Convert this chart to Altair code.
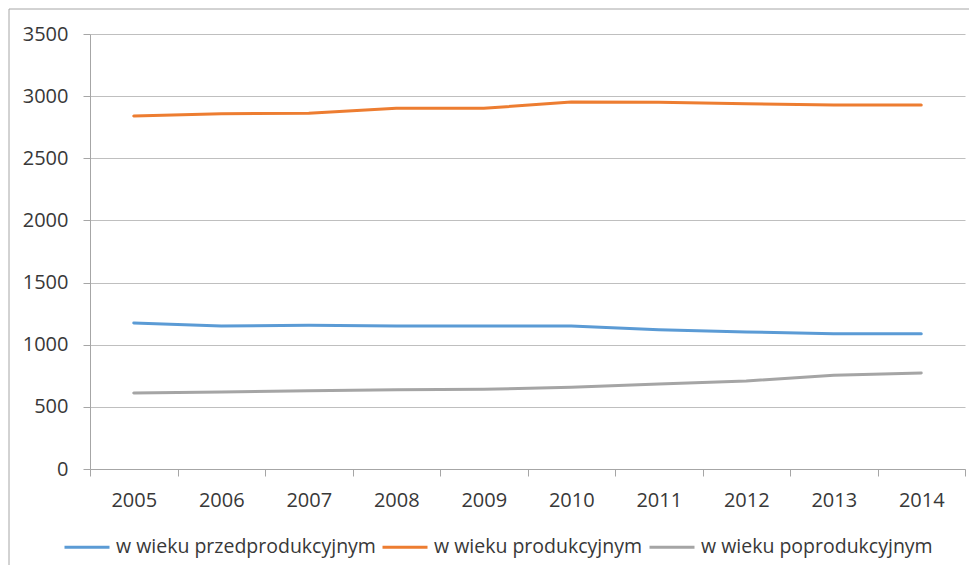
import altair as alt
import pandas as pd

years = [str(y) for y in range(2005, 2015)]
pre = [1175, 1150, 1156, 1150, 1150, 1150, 1121, 1102, 1089, 1089]
prod = [2840, 2858, 2862, 2902, 2902, 2953, 2950, 2939, 2928, 2928]
post = [611, 619, 630, 638, 641, 657, 684, 708, 754, 772]
series = ["w wieku przedprodukcyjnym", "w wieku produkcyjnym", "w wieku poprodukcyjnym"]
colors = ["#5B9BD5", "#ED7D31", "#A5A5A5"]
y_ticks = [0, 500, 1000, 1500, 2000, 2500, 3000, 3500]

rows = []
for name, vals in zip(series, [pre, prod, post]):
    for yr, v in zip(years, vals):
        rows.append({"rok": yr, "seria": name, "wartosc": v})
df = pd.DataFrame(rows)

TEXT = "#383838"
FONT = "Open Sans"
AXIS = "#A6A6A6"
FS = 20

lines = alt.Chart(df).mark_line(strokeWidth=3, strokeCap="round", strokeJoin="round").encode(
    x=alt.X("rok:N", sort=years, bandPosition=0.5,
            scale=alt.Scale(type="band", paddingInner=0, paddingOuter=0),
            axis=alt.Axis(title=None, labelAngle=0, tickBand="extent", grid=False,
                          domainColor=AXIS, tickColor=AXIS, tickSize=7,
                          labelPadding=14, labelFontSize=FS, labelColor=TEXT, labelFont=FONT)),
    y=alt.Y("wartosc:Q", scale=alt.Scale(domain=[0, 3500], nice=False),
            axis=alt.Axis(title=None, values=y_ticks, format="d", grid=True, gridColor="#BFBFBF",
                          domainColor=AXIS, tickColor=AXIS, tickSize=7,
                          labelPadding=15, labelFontSize=FS, labelColor=TEXT, labelFont=FONT)),
    color=alt.Color("seria:N", sort=series,
                    scale=alt.Scale(domain=series, range=colors),
                    legend=alt.Legend(title=None, orient="none", direction="horizontal",
                                      legendX=-27, legendY=489,
                                      symbolType="stroke", symbolSize=2025, symbolStrokeWidth=3,
                                      labelFontSize=19.5, labelColor=TEXT, labelFont=FONT,
                                      labelLimit=500, labelOffset=5, columnPadding=0)),
)

frame = alt.Chart(pd.DataFrame({"f": [0]})).mark_rect(
    fillOpacity=0, stroke="#A6A6A6", strokeWidth=1
).encode(x=alt.value(-81), x2=alt.value(1000), y=alt.value(-25), y2=alt.value(700))

chart = alt.layer(frame, lines).properties(
    width=875, height=435,
    autosize=alt.AutoSizeParams(type="none"),
    padding={"left": 82, "top": 26, "right": 4, "bottom": 96},
).configure(font=FONT).configure_view(stroke=None)

chart.save("out.html", embed_options={"renderer": "svg", "actions": False})
